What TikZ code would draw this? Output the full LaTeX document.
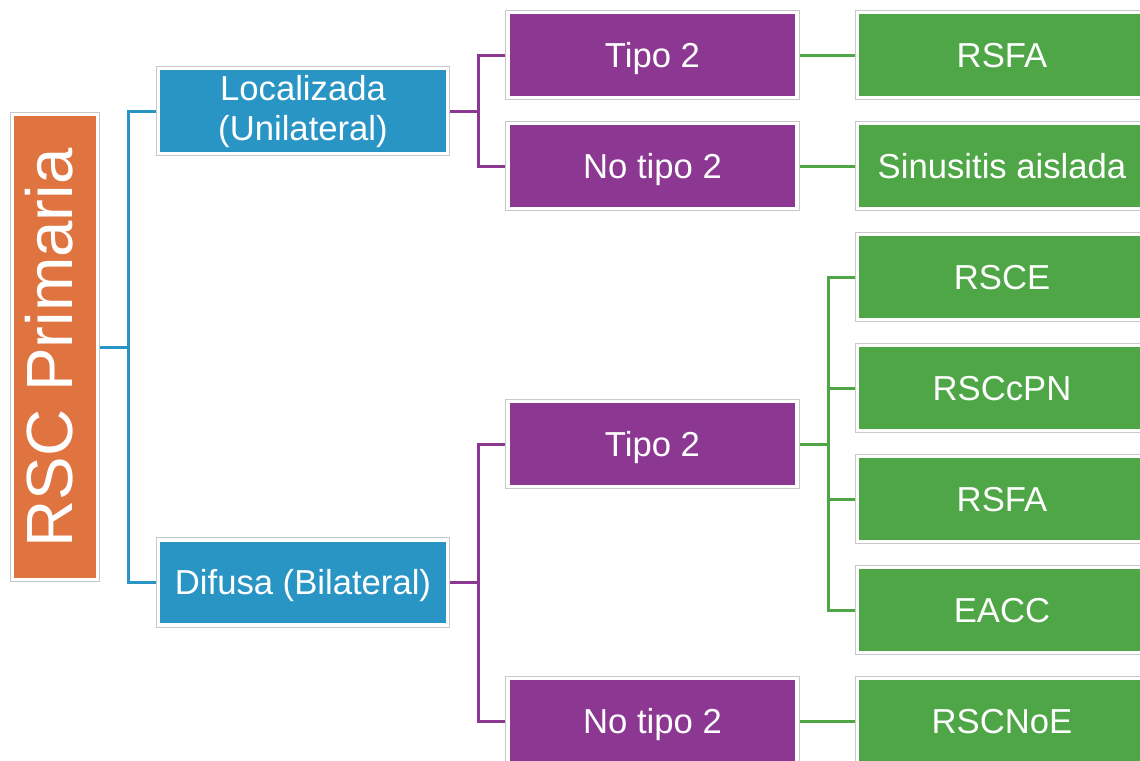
\documentclass[tikz,border=0pt]{standalone}
\usepackage{fontspec}
\setmainfont{Liberation Sans}
\usetikzlibrary{backgrounds}
\definecolor{cOrange}{RGB}{224,116,64}
\definecolor{cBlue}{RGB}{41,149,197}
\definecolor{cPurple}{RGB}{140,55,146}
\definecolor{cGreen}{RGB}{78,166,71}
\definecolor{cEdge}{RGB}{200,200,200}
\tikzset{
  box/.style={draw=white, line width=2.6pt, preaction={draw=cEdge, line width=4.2pt},
    text=white, align=center, inner sep=0pt, text height=18.6pt, text depth=0pt,
    font=\fontsize{26}{30}\selectfont},
  orangebox/.style={box, fill=cOrange, minimum width=63.5pt, minimum height=348.5pt},
  bluebox/.style={box, fill=cBlue, minimum width=217pt, minimum height=64pt},
  purplebox/.style={box, fill=cPurple, minimum width=217pt, minimum height=64pt},
  greenbox/.style={box, fill=cGreen, minimum width=217pt, minimum height=64pt},
  twoline/.style={text height=48.6pt, text depth=4pt},
  vtext/.style={rotate=90, text=white, inner sep=0pt, text height=35pt, text depth=0pt,
    font=\fontsize{49}{55}\selectfont},
  bline/.style={draw=cBlue, line width=2.25pt},
  pline/.style={draw=cPurple, line width=2.25pt},
  gline/.style={draw=cGreen, line width=2.25pt},
}
\begin{document}
\begin{tikzpicture}[x=0.75pt, y=-0.75pt]
\useasboundingbox (0,0) rectangle (1140,761);
\clip (0,0) rectangle (1140,761);
% nodes
\node[orangebox] (rsc) at (55,347) {};
\node[vtext] (rsct) at (49,348) {RSC Primaria};
\node[bluebox, twoline] (loc) at (303,111) {Localizada\\(Unilateral)};
\node[bluebox] (dif) at (303,582.5) {Difusa (Bilateral)};
\node[purplebox] (t2a) at (652.5,55) {Tipo 2};
\node[purplebox] (nt2a) at (652.5,166) {No tipo 2};
\node[purplebox] (t2b) at (652.5,444) {Tipo 2};
\node[purplebox] (nt2b) at (652.5,721) {No tipo 2};
\node[greenbox] (g1) at (1002,55) {RSFA};
\node[greenbox] (g2) at (1002,166) {Sinusitis aislada};
\node[greenbox] (g3) at (1002,277) {RSCE};
\node[greenbox] (g4) at (1002,388) {RSCcPN};
\node[greenbox] (g5) at (1002,499) {RSFA};
\node[greenbox] (g6) at (1002,610) {EACC};
\node[greenbox] (g7) at (1002,721) {RSCNoE};
\coordinate (j1) at (128,347);
\coordinate (j2) at (478,111);
\coordinate (j3) at (478,582.5);
\coordinate (j4) at (828,444);
\begin{scope}[on background layer]
\draw[bline] (rsc.east) -- (j1);
\draw[bline] (loc.west) -| (j1) |- (dif.west);
\draw[pline] (loc.east) -- (j2);
\draw[pline] (t2a.west) -| (j2) |- (nt2a.west);
\draw[pline] (dif.east) -- (j3);
\draw[pline] (t2b.west) -| (j3) |- (nt2b.west);
\draw[gline] (t2a.east) -- (g1.west);
\draw[gline] (nt2a.east) -- (g2.west);
\draw[gline] (nt2b.east) -- (g7.west);
\draw[gline] (t2b.east) -- (j4);
\draw[gline] (g3.west) -| (j4) |- (g6.west);
\draw[gline] (g4.west) -| (j4);
\draw[gline] (g5.west) -| (j4);
\end{scope}
\end{tikzpicture}
\end{document}
